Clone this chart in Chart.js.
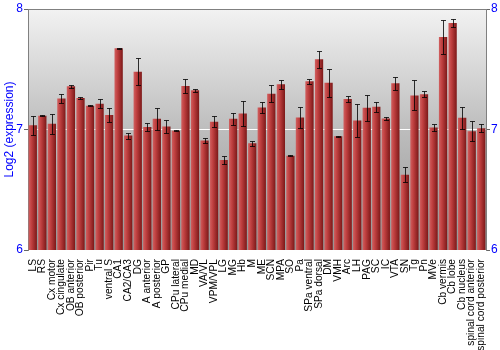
<!DOCTYPE html>
<html>
<head>
<meta charset="utf-8">
<script src="https://cdn.jsdelivr.net/npm/chart.js@4.4.0/dist/chart.umd.min.js"></script>
<style>
  html, body { margin: 0; padding: 0; background: #fff; }
  #wrap { width: 500px; height: 350px; }
</style>
</head>
<body>
<div id="wrap"><canvas id="chart" width="500" height="350"></canvas></div>
<script>
const regions = ["LS", "RS", "Cx motor", "Cx cingulate", "OB anterior", "OB posterior", "Pir", "Tu",
  "ventral S", "CA1", "CA2/CA3", "DG", "A anterior", "A posterior", "GP", "CPu lateral", "CPu medial",
  "MD", "VA/VL", "VPM/VPL", "LG", "MG", "Hb", "M", "ME", "SCN", "MPA", "SO", "Pa", "SPa ventral",
  "SPa dorsal", "DM", "VMH", "Arc", "LH", "PAG", "SC", "IC", "VTA", "SN", "Tg", "Pn", "MVe",
  "Cb vermis", "Cb lobe", "Cb nucleus", "spinal cord anterior", "spinal cord posterior"];

const expression = [7.036, 7.114, 7.047, 7.258, 7.358, 7.261, 7.197, 7.214,
  7.12, 7.675, 6.95, 7.48, 7.02, 7.089, 7.025, 6.99, 7.361,
  7.325, 6.908, 7.064, 6.747, 7.089, 7.133, 6.886, 7.183, 7.297, 7.375, 6.783, 7.1, 7.4,
  7.583, 7.389, 6.944, 7.253, 7.075, 7.18, 7.189, 7.092, 7.383, 6.625, 7.283, 7.292, 7.017,
  7.767, 7.883, 7.097, 6.986, 7.011];

const stdErr = [0.08, 0.004, 0.083, 0.04, 0.015, 0.01, 0.005, 0.035,
  0.057, 0.003, 0.025, 0.11, 0.03, 0.093, 0.053, 0.004, 0.054,
  0.014, 0.024, 0.046, 0.032, 0.049, 0.104, 0.022, 0.044, 0.069, 0.035, 0.006, 0.09, 0.022,
  0.071, 0.117, 0.003, 0.026, 0.139, 0.11, 0.042, 0.01, 0.056, 0.061, 0.125, 0.026, 0.028,
  0.144, 0.036, 0.09, 0.082, 0.033];

const yTicks = [6, 7, 8];

const blue = "#0000ff";
const font = "'Liberation Sans', Arial, sans-serif";

function barFill(ctx) {
  const chart = ctx.chart;
  const xs = chart.scales.x;
  if (!xs || !chart.chartArea) return "#b03030";
  const cx = xs.getPixelForValue(ctx.dataIndex);
  const w = xs.width / regions.length * 0.87;
  const g = chart.ctx.createLinearGradient(cx - w / 2, 0, cx + w / 2, 0);
  g.addColorStop(0, "#d06060");
  g.addColorStop(0.35, "#c04040");
  g.addColorStop(1, "#7c1818");
  return g;
}

const backdrop = {
  id: "backdrop",
  beforeDraw(chart) {
    const { ctx, chartArea: a } = chart;
    const g = ctx.createLinearGradient(0, a.top, 0, a.bottom);
    g.addColorStop(0, "#f2f2f2");
    g.addColorStop(0.5, "#bdbdbd");
    g.addColorStop(1, "#959595");
    ctx.save();
    ctx.fillStyle = g;
    ctx.fillRect(a.left, a.top, a.right - a.left, a.bottom - a.top);
    ctx.strokeStyle = "#808080";
    ctx.lineWidth = 1;
    ctx.beginPath();
    ctx.moveTo(a.left, a.top + 0.5);
    ctx.lineTo(a.right, a.top + 0.5);
    ctx.stroke();
    ctx.restore();
  }
};

const errorBars = {
  id: "errorBars",
  afterDatasetsDraw(chart) {
    const { ctx } = chart;
    const ys = chart.scales.y;
    const meta = chart.getDatasetMeta(0);
    ctx.save();
    ctx.strokeStyle = "rgba(0,0,0,0.8)";
    ctx.lineWidth = 1;
    meta.data.forEach((bar, i) => {
      const x = Math.round(bar.x) + 0.5;
      const hi = Math.round(ys.getPixelForValue(expression[i] + stdErr[i])) + 0.5;
      const lo = Math.round(ys.getPixelForValue(expression[i] - stdErr[i])) + 0.5;
      ctx.beginPath();
      ctx.moveTo(x, hi); ctx.lineTo(x, lo);
      ctx.moveTo(x - 2.5, hi); ctx.lineTo(x + 2.5, hi);
      ctx.moveTo(x - 2.5, lo); ctx.lineTo(x + 2.5, lo);
      ctx.stroke();
    });
    ctx.restore();
  }
};

new Chart(document.getElementById("chart"), {
  type: "bar",
  data: {
    labels: regions,
    datasets: [{
      data: expression,
      backgroundColor: barFill,
      borderWidth: 0,
      barPercentage: 0.87,
      categoryPercentage: 1
    }]
  },
  options: {
    responsive: false,
    animation: false,
    devicePixelRatio: 1,
    layout: { padding: { top: 9, left: 0, right: 0, bottom: 0 } },
    plugins: { legend: { display: false }, tooltip: { enabled: false } },
    scales: {
      x: {
        grid: { display: false },
        border: { display: false },
        afterFit: s => { s.height = 100; },
        ticks: {
          autoSkip: false, minRotation: 90, maxRotation: 90, padding: 1,
          color: "#000", font: { family: font, size: 10.2 }
        }
      },
      y: {
        min: 6, max: 8,
        afterFit: s => { s.width = 28; },
        afterBuildTicks: s => { s.ticks = yTicks.map(v => ({ value: v })); },
        border: { color: "#808080" },
        grid: {
          color: c => (c.tick && c.tick.value === 7 ? "#ffffff" : "rgba(0,0,0,0)"),
          tickColor: "#666", tickLength: 4, lineWidth: 1
        },
        ticks: { color: blue, padding: 1, font: { family: font, size: 12 } },
        title: {
          display: true, text: "Log2 (expression)", color: blue,
          padding: { top: 2, bottom: 0 }, font: { family: font, size: 12 }
        }
      },
      y2: {
        position: "right",
        min: 6, max: 8,
        afterFit: s => { s.width = 14; },
        afterBuildTicks: s => { s.ticks = yTicks.map(v => ({ value: v })); },
        border: { color: "#808080" },
        grid: { drawOnChartArea: false, tickColor: "#666", tickLength: 4 },
        ticks: { color: blue, padding: 1, font: { family: font, size: 12 } }
      }
    }
  },
  plugins: [backdrop, errorBars]
});
</script>
</body>
</html>
